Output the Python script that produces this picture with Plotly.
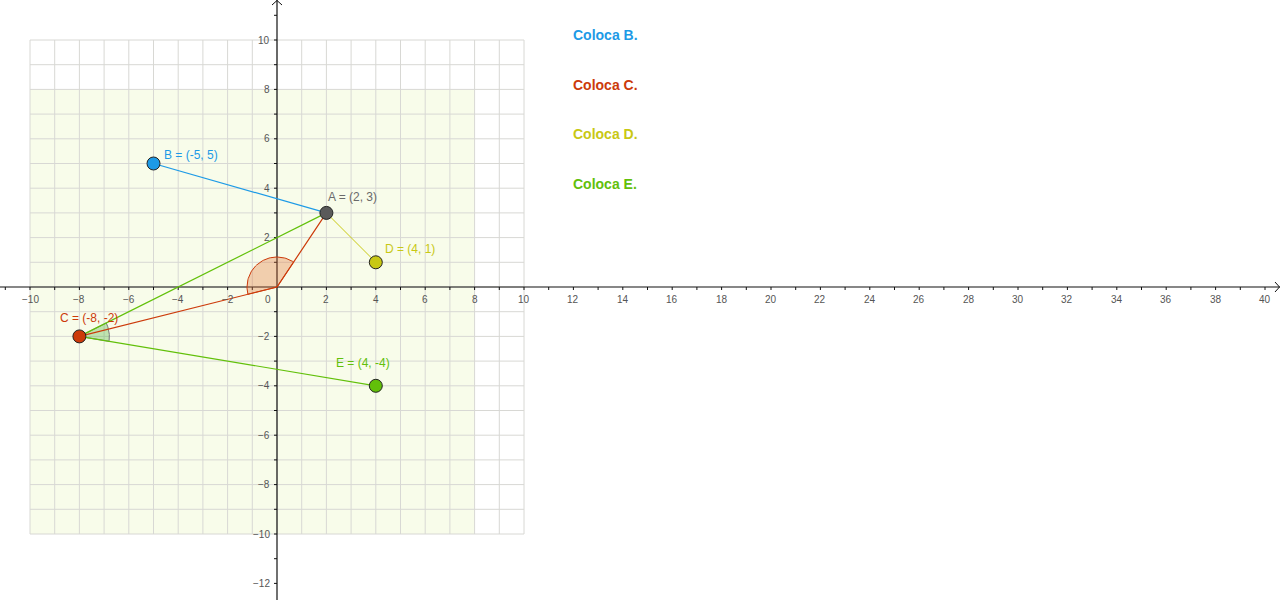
import numpy as np
import plotly.graph_objects as go

# ---- data ----
point_names = ["A", "B", "C", "D", "E"]
point_x = [2, -5, -8, 4, 4]
point_y = [3, 5, -2, 1, -4]
point_colors = ["#5a5a5a", "#1d9ae6", "#cc3a0a", "#c8c814", "#62c00a"]
label_colors = ["#6a6a6a", "#1d9ae6", "#cc3a0a", "#c8c814", "#62c00a"]
x_ticks = list(range(-10, 41, 2))
y_ticks = [v for v in range(-12, 11, 2) if v != 0]
grid_vals = list(range(-10, 11))
instructions = ["Coloca B.", "Coloca C.", "Coloca D.", "Coloca E."]
instr_colors = ["#1d9ae6", "#cc3a0a", "#c8c814", "#62c00a"]

W, H = 1280, 600
PPU = 24.7
OX, OY = 277, 287
xr = [-OX / PPU, (W - OX) / PPU]
yr = [-(H - OY) / PPU, OY / PPU]

P = {n: (x, y) for n, x, y in zip(point_names, point_x, point_y)}
col = dict(zip(point_names, point_colors))

fig = go.Figure()

# shaded region
fig.add_shape(type="rect", x0=-10, x1=8, y0=-10, y1=8, fillcolor="#f8fcea",
              line_width=0, layer="below")

# grid
gx, gy = [], []
for v in grid_vals:
    gx += [v, v, None]; gy += [-10, 10, None]
    gx += [-10, 10, None]; gy += [v, v, None]
fig.add_trace(go.Scatter(x=gx, y=gy, mode="lines", line=dict(color="#d8d8d4", width=1),
                         hoverinfo="skip", showlegend=False))

# axes
fig.add_trace(go.Scatter(x=[xr[0], xr[1]], y=[0, 0], mode="lines",
                         line=dict(color="#111", width=1.2), hoverinfo="skip", showlegend=False))
fig.add_trace(go.Scatter(x=[0, 0], y=[yr[0], yr[1]], mode="lines",
                         line=dict(color="#111", width=1.2), hoverinfo="skip", showlegend=False))
a = 5 / PPU
fig.add_trace(go.Scatter(x=[xr[1] - a, xr[1] - 0.02, xr[1] - a], y=[a, 0, -a], mode="lines",
                         line=dict(color="#111", width=1), hoverinfo="skip", showlegend=False))
fig.add_trace(go.Scatter(x=[-a, 0, a], y=[yr[1] - a, yr[1] - 0.02, yr[1] - a], mode="lines",
                         line=dict(color="#111", width=1), hoverinfo="skip", showlegend=False))
# ticks
t = 3 / PPU
tx, ty = [], []
for v in range(-11, 41):
    if v == 0:
        continue
    tx += [v, v, None]; ty += [0, -t, None]
for v in range(-12, 12):
    if v == 0:
        continue
    tx += [0, -t, None]; ty += [v, v, None]
fig.add_trace(go.Scatter(x=tx, y=ty, mode="lines", line=dict(color="#111", width=1),
                         hoverinfo="skip", showlegend=False))

def sector(cx, cy, ang0, ang1, r):
    th = np.linspace(ang0, ang1, 60)
    xs = [cx] + list(cx + r * np.cos(th)) + [cx]
    ys = [cy] + list(cy + r * np.sin(th)) + [cy]
    return xs, ys

# angle at origin between A and C
R = 30 / PPU
angA = np.arctan2(P["A"][1], P["A"][0])
angC = np.arctan2(P["C"][1], P["C"][0]) + 2 * np.pi
sx, sy = sector(0, 0, angA, angC, R)
fig.add_trace(go.Scatter(x=sx, y=sy, mode="lines", fill="toself",
                         fillcolor="rgba(230,120,60,0.35)",
                         line=dict(color="#cc3a0a", width=1), hoverinfo="skip", showlegend=False))

# angle at C between E and A
cx, cy = P["C"]
angCE = np.arctan2(P["E"][1] - cy, P["E"][0] - cx)
angCA = np.arctan2(P["A"][1] - cy, P["A"][0] - cx)
sx, sy = sector(cx, cy, angCE, angCA, R)
fig.add_trace(go.Scatter(x=sx, y=sy, mode="lines", fill="toself",
                         fillcolor="rgba(60,170,40,0.3)",
                         line=dict(color="#777", width=1), hoverinfo="skip", showlegend=False))

# segments
def seg(p, q, color, w=1.2):
    fig.add_trace(go.Scatter(x=[P[p][0], P[q][0]], y=[P[p][1], P[q][1]], mode="lines",
                             line=dict(color=color, width=w), hoverinfo="skip", showlegend=False))

seg("B", "A", col["B"])
seg("A", "D", col["D"], 1)
seg("C", "A", col["E"])
seg("C", "E", col["E"])
fig.add_trace(go.Scatter(x=[P["C"][0], 0, P["A"][0]], y=[P["C"][1], 0, P["A"][1]], mode="lines",
                         line=dict(color=col["C"], width=1.2), hoverinfo="skip", showlegend=False))

# points
fig.add_trace(go.Scatter(x=point_x, y=point_y, mode="markers",
                         marker=dict(size=13, color=point_colors,
                                     line=dict(color="#222", width=1)),
                         hoverinfo="skip", showlegend=False))

annots = []
offsets = {"A": (0, 16), "B": (8, 9), "C": (-21, 18),
           "D": (7, 13), "E": (-42, 23)}
for n, x, y, c in zip(point_names, point_x, point_y, label_colors):
    dx, dy = offsets[n]
    annots.append(dict(x=x, y=y, text=f"{n} = ({x}, {y})", showarrow=False, xanchor="left",
                       yanchor="middle", xshift=dx, yshift=dy,
                       font=dict(family="Liberation Sans, Arial", size=12, color=c)))

tick_font = dict(family="Liberation Sans, Arial", size=10, color="#555")
for v in x_ticks:
    lab = str(v).replace("-", "\u2212")
    annots.append(dict(x=v, y=0, text=lab, showarrow=False, xanchor="center", yanchor="top",
                       yshift=-5, xshift=(-9 if v == 0 else 0), font=tick_font))
for v in y_ticks:
    lab = str(v).replace("-", "\u2212")
    annots.append(dict(x=0, y=v, text=lab, showarrow=False, xanchor="right", yanchor="middle",
                       xshift=-5, font=tick_font))

for i, (txt, c) in enumerate(zip(instructions, instr_colors)):
    annots.append(dict(x=571 / W, y=1 - (35 + 49.7 * i) / H, xref="paper", yref="paper",
                       text=f"<b>{txt}</b>", showarrow=False, xanchor="left", yanchor="middle",
                       font=dict(family="Liberation Sans, Arial", size=14, color=c)))

fig.update_layout(
    width=W, height=H, margin=dict(l=0, r=0, t=0, b=0),
    paper_bgcolor="white", plot_bgcolor="white",
    xaxis=dict(range=xr, visible=False, fixedrange=True),
    yaxis=dict(range=yr, visible=False, fixedrange=True),
    annotations=annots, showlegend=False,
)

fig.write_html("out.html", config={"displayModeBar": False},
               post_script="document.body.style.margin='0';")
